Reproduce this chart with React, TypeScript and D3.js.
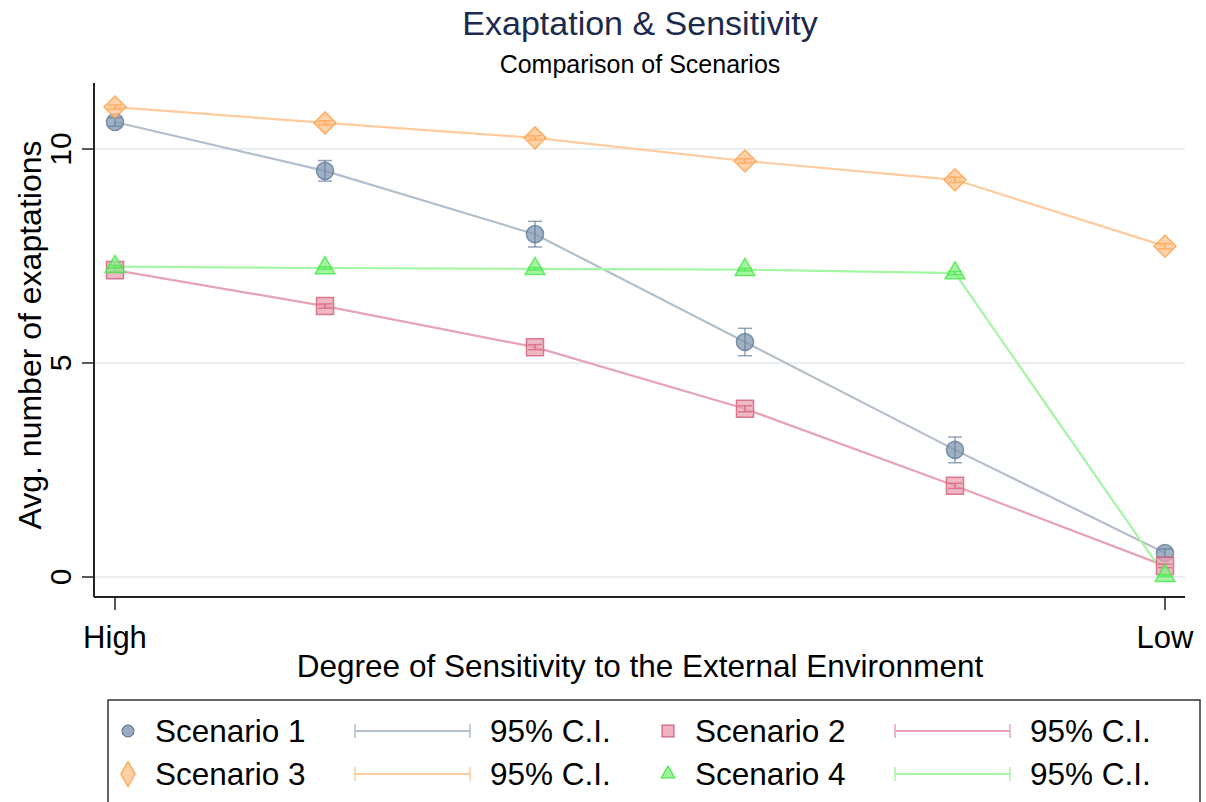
import React from 'react';
import * as d3 from 'd3';

const levels = [1, 2, 3, 4, 5, 6];
const tickLevels = [1, 6];
const tickLabels = ['High', 'Low'];
const yTicks = [0, 5, 10];

const scenario1 = [10.63, 9.49, 8.01, 5.49, 2.97, 0.56];
const scenario1Ci = [0.1, 0.24, 0.3, 0.32, 0.3, 0.1];
const scenario2 = [7.17, 6.33, 5.37, 3.93, 2.13, 0.26];
const scenario2Ci = [0.05, 0.05, 0.06, 0.07, 0.06, 0.04];
const scenario3 = [10.98, 10.61, 10.26, 9.72, 9.28, 7.73];
const scenario3Ci = [0.05, 0.05, 0.05, 0.05, 0.06, 0.06];
const scenario4 = [7.25, 7.22, 7.2, 7.18, 7.1, 0.03];
const scenario4Ci = [0.03, 0.03, 0.03, 0.03, 0.04, 0.02];

// rotated square, since d3's diamond is tall
const squareDiamond: d3.SymbolType = {
  draw(ctx, size) {
    const r = Math.sqrt(size / 2);
    ctx.moveTo(0, -r);
    ctx.lineTo(r, 0);
    ctx.lineTo(0, r);
    ctx.lineTo(-r, 0);
    ctx.closePath();
  },
};

const series = [
  { name: 'Scenario 1', values: scenario1, ci: scenario1Ci, shape: d3.symbolCircle, legendShape: d3.symbolCircle, size: 230, legendSize: 110, line: '#b3bfcc', fill: '#8197b0', edge: '#637d9c' },
  { name: 'Scenario 2', values: scenario2, ci: scenario2Ci, shape: d3.symbolSquare, legendShape: d3.symbolSquare, size: 290, legendSize: 140, line: '#e6a3b4', fill: '#e8a0b2', edge: '#d45c7b' },
  { name: 'Scenario 3', values: scenario3, ci: scenario3Ci, shape: squareDiamond, legendShape: d3.symbolDiamond, size: 242, legendSize: 180, line: '#ffcb9e', fill: '#ffc48c', edge: '#ff9f4a' },
  { name: 'Scenario 4', values: scenario4, ci: scenario4Ci, shape: d3.symbolTriangle, legendShape: d3.symbolTriangle, size: 170, legendSize: 80, line: '#a4f5a4', fill: '#88f088', edge: '#47e847' },
];

const font = '"Liberation Sans", Arial, sans-serif';

export default function App() {
  const W = 1206;
  const H = 802;
  const x = d3.scaleLinear().domain([1, 6]).range([115, 1165]);
  const y = d3.scaleLinear().domain([0, 10]).range([577, 149]);
  const left = 94;
  const right = 1185;
  const bottom = 597;
  const top = 83;

  const line = d3.line<number>().x((_, i) => x(levels[i])).y(d => y(d));

  const legendRows = [
    [series[0], series[1]],
    [series[2], series[3]],
  ];

  return (
    <svg width={W} height={H} style={{ position: 'absolute', left: 0, top: 0, background: '#fff' }} fontFamily={font}>
      <text x={640} y={35} textAnchor="middle" fontSize={34} fill="#1c2a4d">Exaptation &amp; Sensitivity</text>
      <text x={640} y={73} textAnchor="middle" fontSize={25} fill="#000">Comparison of Scenarios</text>

      {yTicks.map(t => (
        <g key={t}>
          <line x1={left} x2={right} y1={y(t)} y2={y(t)} stroke="#e8eef2" strokeWidth={2} />
          <line x1={left - 12} x2={left} y1={y(t)} y2={y(t)} stroke="#222" strokeWidth={1.5} />
          <text transform={`translate(${left - 23},${y(t)}) rotate(-90)`} textAnchor="middle" fontSize={30} fill="#000">{t}</text>
        </g>
      ))}
      <line x1={left} x2={left} y1={top} y2={bottom} stroke="#222" strokeWidth={2} />
      <line x1={left} x2={right} y1={bottom} y2={bottom} stroke="#222" strokeWidth={2} />
      {tickLevels.map((l, i) => (
        <g key={l}>
          <line x1={x(l)} x2={x(l)} y1={bottom} y2={bottom + 13} stroke="#222" strokeWidth={1.5} />
          <text x={x(l)} y={648} textAnchor="middle" fontSize={31} fill="#000">{tickLabels[i]}</text>
        </g>
      ))}
      <text x={640} y={677} textAnchor="middle" fontSize={31.5} fill="#000">Degree of Sensitivity to the External Environment</text>
      <text transform={`translate(41,335) rotate(-90)`} textAnchor="middle" fontSize={32} fill="#000">Avg. number of exaptations</text>

      {series.map(s => (
        <path key={s.name + 'l'} d={line(s.values) ?? ''} fill="none" stroke={s.line} strokeWidth={2.2} />
      ))}
      {series.map(s => (
        <g key={s.name + 'm'}>
          {s.values.map((v, i) => (
            <g key={i}>
              <path d={d3.symbol(s.shape, s.size)() ?? ''} transform={`translate(${x(levels[i])},${y(v)})`} fill={s.fill} fillOpacity={0.75} stroke={s.edge} strokeWidth={1.5} strokeOpacity={0.8} />
              <line x1={x(levels[i])} x2={x(levels[i])} y1={y(v - s.ci[i])} y2={y(v + s.ci[i])} stroke={s.edge} strokeWidth={1.5} strokeOpacity={0.7} />
              <line x1={x(levels[i]) - 7} x2={x(levels[i]) + 7} y1={y(v - s.ci[i])} y2={y(v - s.ci[i])} stroke={s.edge} strokeWidth={1.5} strokeOpacity={0.7} />
              <line x1={x(levels[i]) - 7} x2={x(levels[i]) + 7} y1={y(v + s.ci[i])} y2={y(v + s.ci[i])} stroke={s.edge} strokeWidth={1.5} strokeOpacity={0.7} />
            </g>
          ))}
        </g>
      ))}

      <rect x={108} y={700} width={1092} height={110} fill="#fff" stroke="#333" strokeWidth={1.5} />
      {legendRows.map((row, r) => (
        <g key={r} transform={`translate(0,${731 + r * 43})`}>
          {row.map((s, c) => {
            const ox = c * 540;
            return (
              <g key={s.name}>
                <path d={d3.symbol(s.legendShape, s.legendSize)() ?? ''} transform={`translate(${128 + ox},0)`} fill={s.fill} fillOpacity={0.8} stroke={s.edge} strokeWidth={1.2} />
                <text x={155 + ox} y={11} fontSize={31.5} fill="#000">{s.name}</text>
                <line x1={355 + ox} x2={470 + ox} y1={0} y2={0} stroke={s.line} strokeWidth={2.2} />
                <line x1={355 + ox} x2={355 + ox} y1={-7} y2={7} stroke={s.line} strokeWidth={1.5} />
                <line x1={470 + ox} x2={470 + ox} y1={-7} y2={7} stroke={s.line} strokeWidth={1.5} />
                <text x={490 + ox} y={11} fontSize={31.5} fill="#000">95% C.I.</text>
              </g>
            );
          })}
        </g>
      ))}
    </svg>
  );
}
